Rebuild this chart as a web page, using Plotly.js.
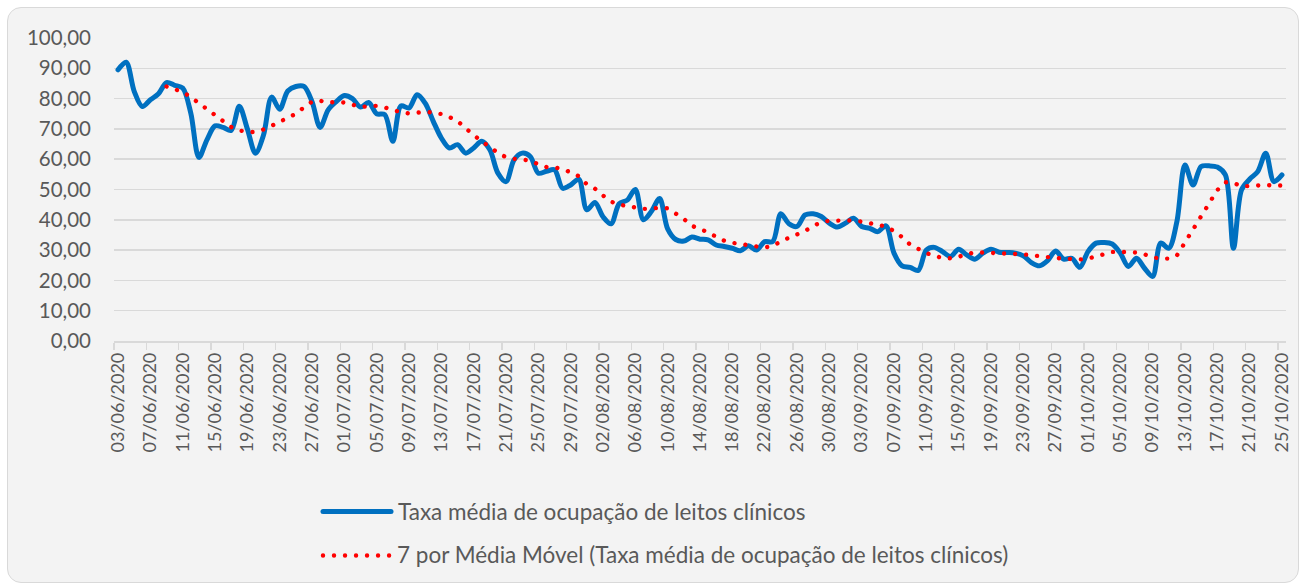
<!DOCTYPE html>
<html><head><meta charset="utf-8">
<script src="https://cdn.plot.ly/plotly-3.0.1.min.js"></script>
<style>
html,body{margin:0;padding:0;background:#ffffff;}
#box{position:absolute;left:7px;top:7px;width:1290px;height:574px;background:#f3f3f3;border:1px solid #d9d9d9;border-radius:14px;}
#chart{position:absolute;left:0;top:0;width:1303px;height:585px;}
#chart path.js-line, #chart .shapelayer path{stroke-linecap:round;stroke-linejoin:round;}
</style></head><body>
<div id="box"></div><div id="chart"></div>
<script>
// Categories: every day from 03/06/2020 to 25/10/2020
const startDay = [2020, 5, 3];   // year, month index (June), day
const dayCount = 145;
const categories = [];
for (let k = 0; k < dayCount; k++) {
  const d = new Date(Date.UTC(startDay[0], startDay[1], startDay[2] + k));
  const dd = String(d.getUTCDate()).padStart(2, '0');
  const mm = String(d.getUTCMonth() + 1).padStart(2, '0');
  categories.push(dd + '/' + mm + '/' + d.getUTCFullYear());
}

const seriesName = 'Taxa média de ocupação de leitos clínicos';
const maName = '7 por Média Móvel (Taxa média de ocupação de leitos clínicos)';

// Taxa média de ocupação de leitos clínicos (daily)
const taxaOcupacao = [
  89.5, 92.0, 82.4, 77.4, 79.6, 81.6, 85.3, 84.4, 83.5, 75.2,
  60.6, 66.4, 71.0, 70.5, 69.5, 77.5, 70.0, 62.0, 68.0, 80.5,
  76.5, 82.5, 84.0, 84.0, 79.0, 70.5, 76.3, 79.0, 81.0, 80.0,
  77.2, 78.7, 75.0, 74.7, 65.9, 77.6, 76.9, 81.3, 78.5, 72.5,
  67.0, 63.7, 64.8, 62.0, 63.7, 65.9, 63.1, 55.4, 52.6, 59.8,
  62.0, 60.9, 55.4, 56.0, 56.5, 50.4, 51.5, 53.4, 43.3, 45.7,
  41.0, 38.7, 45.3, 46.5, 50.0, 40.0, 42.8, 47.0, 37.0, 33.5,
  33.0, 34.3, 33.6, 33.4, 31.7, 31.2, 30.6, 29.8, 31.4, 30.0,
  32.8, 32.8, 42.0, 38.7, 37.8, 41.6, 42.0, 41.1, 38.9, 37.6,
  38.9, 40.5, 37.8, 37.2, 36.1, 38.0, 29.0, 24.8, 24.3, 23.3,
  30.0, 30.9, 29.5, 27.9, 30.3, 28.4, 27.0, 29.0, 30.3, 29.3,
  29.2, 29.0, 28.1, 25.9, 24.8, 26.5, 29.7, 27.0, 27.3, 24.3,
  29.5, 32.3, 32.5, 32.0, 29.0, 24.6, 27.3, 24.0, 21.3, 32.3,
  30.6, 39.4, 58.1, 51.5, 57.6, 57.8, 57.4, 54.8, 30.6, 49.9,
  53.4, 55.9, 62.0, 52.6, 54.8
];

// 7-period moving average as drawn (starts on the 7th day)
const mediaMovel = [
  null, null, null, null, null, null,
  84.0, 83.1, 82.2, 80.5, 78.5, 76.3, 74.5, 72.6, 70.6, 69.5,
  69.0, 69.0, 69.8, 71.0, 72.4, 73.6, 75.0, 77.1, 79.0, 79.3,
  78.7, 78.9, 78.7, 78.0, 77.2, 77.5, 77.6, 77.1, 76.2, 75.5,
  75.1, 75.4, 75.6, 75.4, 74.9, 73.9, 72.6, 70.2, 67.9, 65.8,
  64.1, 62.0, 60.7, 60.1, 59.9, 59.5, 58.3, 57.4, 57.3, 56.7,
  55.7, 54.4, 51.7, 50.3, 48.0, 46.0, 45.0, 44.5, 44.0, 43.6,
  43.7, 44.0, 43.8, 42.2, 40.3, 38.0, 37.1, 35.9, 34.4, 33.1,
  32.4, 31.9, 31.6, 31.2, 30.9, 31.3, 32.9, 34.0, 35.0, 36.3,
  38.0, 39.2, 39.7, 39.7, 39.6, 39.8, 39.4, 38.8, 38.2, 37.8,
  36.3, 34.3, 31.8, 30.2, 29.0, 28.2, 27.3, 27.3, 27.8, 28.7,
  29.2, 29.2, 29.1, 29.0, 29.0, 28.8, 28.6, 28.3, 27.9, 27.7,
  27.4, 27.2, 27.0, 26.9, 27.2, 28.0, 28.7, 29.4, 29.4, 29.3,
  29.2, 28.6, 27.6, 27.2, 27.2, 28.2, 32.6, 36.6, 41.0, 46.0,
  49.8, 52.4, 52.2, 51.0, 51.2, 51.4, 51.5, 51.3, 51.3
];

const W = 1303, H = 585;
const M = {l: 114, r: 17, t: 38, b: 244};
const pw = W - M.l - M.r, ph = H - M.t - M.b;
const px = x => (x - M.l) / pw;
const py = y => (H - M.b - y) / ph;

const blue = '#0070C0', red = '#FF0000', txt = '#595959';
const dotDash = '0.01px,11px';

const traces = [
  {x: categories, y: taxaOcupacao, type: 'scatter', mode: 'lines', name: seriesName,
   line: {color: blue, width: 5, shape: 'spline', smoothing: 0.9}, hoverinfo: 'x+y'},
  {x: categories, y: mediaMovel, type: 'scatter', mode: 'lines', name: maName,
   line: {color: red, width: 4.4, dash: dotDash}, connectgaps: false, hoverinfo: 'x+y'}
];

const layout = {
  width: W, height: H,
  margin: M,
  paper_bgcolor: 'rgba(0,0,0,0)',
  plot_bgcolor: 'rgba(0,0,0,0)',
  separators: ',.',
  showlegend: false,
  font: {family: 'Lato, "Open Sans", sans-serif', color: txt},
  xaxis: {
    type: 'category', range: [-0.5, dayCount - 0.5],
    tickmode: 'linear', tick0: 0, dtick: 4, tickson: 'boundaries',
    ticks: 'outside', ticklen: 7, tickcolor: '#d9d9d9', tickwidth: 1.3,
    ticklabelstandoff: 3,
    showgrid: false, showline: true, linecolor: '#d9d9d9', linewidth: 1.5,
    tickangle: -90, tickfont: {size: 18, color: txt, family: 'Lato'},
    fixedrange: true
  },
  yaxis: {
    range: [0, 100], tickmode: 'linear', tick0: 0, dtick: 10, tickformat: '.2f',
    showgrid: true, gridcolor: '#d9d9d9', gridwidth: 1.5,
    zeroline: false, showline: false, ticks: '',
    ticklabelstandoff: 22,
    tickfont: {size: 20.5, color: txt, family: 'Lato'},
    fixedrange: true
  },
  shapes: [
    {type: 'line', xref: 'paper', yref: 'paper', x0: px(323), x1: px(391), y0: py(511.5), y1: py(511.5),
     line: {color: blue, width: 5}},
    {type: 'line', xref: 'paper', yref: 'paper', x0: px(323), x1: px(392), y0: py(555.5), y1: py(555.5),
     line: {color: red, width: 4.4, dash: dotDash}}
  ],
  annotations: [
    {xref: 'paper', yref: 'paper', x: px(396), y: py(511), xanchor: 'left', yanchor: 'middle',
     text: seriesName, showarrow: false, font: {size: 22.5, color: txt, family: 'Lato'}},
    {xref: 'paper', yref: 'paper', x: px(395), y: py(554), xanchor: 'left', yanchor: 'middle',
     text: maName, showarrow: false, font: {size: 22.5, color: txt, family: 'Lato'}}
  ]
};

Plotly.newPlot('chart', traces, layout, {displayModeBar: false, staticPlot: true});
</script>
</body></html>
